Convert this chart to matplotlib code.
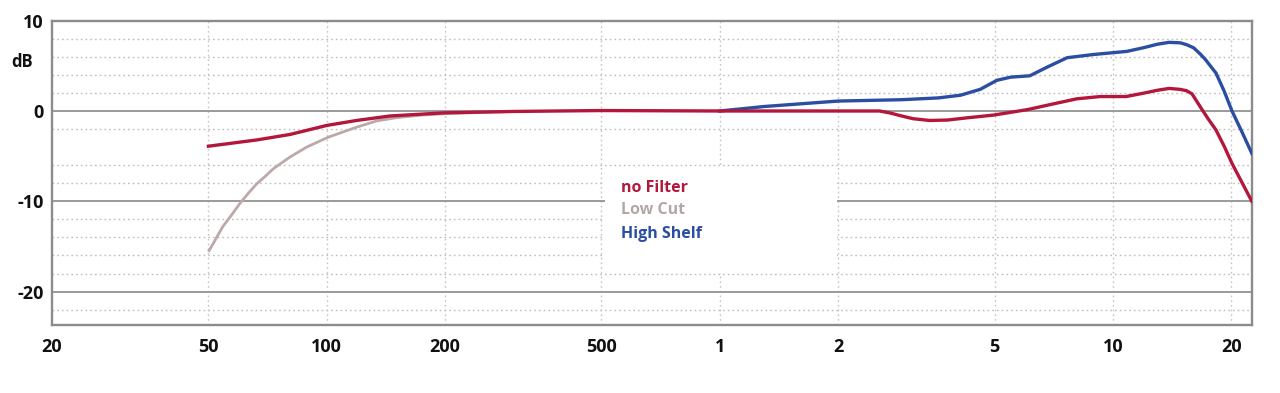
import matplotlib
matplotlib.use("Agg")
import matplotlib.pyplot as plt
from matplotlib.patches import Rectangle

# ---- data (frequency in Hz, level in dB) ----
nofilter_f = [50, 66.5, 80.6, 100, 119, 145, 200, 300, 500, 1000, 2000, 2550,
              2700, 2870, 3100, 3420, 3800, 4270, 4980, 6060, 7080, 8100, 9280,
              10800, 11900, 13000, 13900, 14800, 15400, 15900, 16900, 17500,
              18300, 19200, 20100, 21300, 22580]
nofilter_db = [-3.9, -3.2, -2.6, -1.6, -1.05, -0.55, -0.2, -0.05, 0.05, 0.0, 0.0, 0.0,
               -0.2, -0.5, -0.85, -1.05, -1.0, -0.75, -0.45, 0.15, 0.8, 1.35, 1.6,
               1.6, 1.95, 2.3, 2.5, 2.4, 2.25, 1.9, 0.1, -0.9,
               -2.1, -3.9, -5.8, -7.9, -10.0]

lowcut_f = [50, 52, 54.4, 57.3, 60.1, 63.2, 66.4, 69.7, 73.1, 80.6, 88.9, 100.9,
            119, 134, 150, 175, 200, 250, 300]
lowcut_db = [-15.6, -14.3, -12.8, -11.5, -10.25, -9.1, -8.05, -7.25, -6.4, -5.1,
             -4.0, -2.9, -1.8, -1.1, -0.75, -0.45, -0.3, -0.15, -0.05]

highshelf_f = [1000, 1300, 2000, 2900, 3600, 4100, 4600, 5070, 5500, 6150, 6800,
               7650, 8900, 10850, 11950, 13000, 13900, 14850, 15400, 16050, 16700,
               17200, 18300, 19200, 20100, 21300, 22580]
highshelf_db = [0.0, 0.5, 1.1, 1.25, 1.45, 1.75, 2.4, 3.4, 3.75, 3.9, 4.85,
                5.9, 6.25, 6.6, 7.0, 7.4, 7.6, 7.55, 7.35, 7.0, 6.3,
                5.7, 4.2, 2.2, 0.0, -2.3, -4.7]

x_ticks = [20, 50, 100, 200, 500, 1000, 2000, 5000, 10000, 20000]
x_labels = ["20", "50", "100", "200", "500", "1", "2", "5", "10", "20"]
y_ticks = [10, 0, -10, -20]
y_labels = ["10", "0", "-10", "-20"]
solid_levels = [0, -10, -20]
dotted_levels = [8, 6, 4, 2, -2, -6, -8, -12, -14, -16, -18, -22]

legend_names = ["no Filter", "Low Cut", "High Shelf"]

RED = "#b3173c"
GREY = "#bda9a9"
BLUE = "#2b4ea3"
GRID = "#9a9a9a"

plt.rcParams["font.family"] = ["Open Sans", "DejaVu Sans"]

fig = plt.figure(figsize=(12.8, 3.93), dpi=100)
ax = fig.add_axes([52 / 1280, 1 - 325 / 393, 1200 / 1280, (325 - 20.7) / 393])

ax.set_xscale("log")
ax.set_xlim(20, 22600)
ax.set_ylim(-23.7, 10)

# grid
for lv in dotted_levels:
    ax.axhline(lv, color="#bdbdbd", lw=1.0, ls=(0, (1.2, 2.2)), zorder=1)
for xv in x_ticks[1:]:
    ax.axvline(xv, color="#c4c4c4", lw=1.0, ls=(0, (1.2, 2.2)), zorder=1)
for lv in solid_levels:
    ax.axhline(lv, color=GRID, lw=1.4, zorder=1.2)

# legend box (white area hiding grid)
ax.add_patch(Rectangle((510, -17.9), 1990 - 510, 11.7, facecolor="white",
                       edgecolor="none", zorder=1.5))

ax.plot(lowcut_f, lowcut_db, color=GREY, lw=2.0, zorder=3, solid_capstyle="butt",
        solid_joinstyle="round")
ax.plot(highshelf_f, highshelf_db, color=BLUE, lw=2.4, zorder=3.5, solid_joinstyle="round")
ax.plot(nofilter_f, nofilter_db, color=RED, lw=2.4, zorder=4, solid_joinstyle="round")

# legend texts
for name, col, yy in zip(legend_names, [RED, "#b5a6a6", BLUE], [-8.5, -10.95, -13.6]):
    ax.text(562, yy, name, color=col, fontsize=11.5, fontweight="bold",
            va="center", ha="left", zorder=5)

ax.set_xticks(x_ticks)
ax.set_xticklabels(x_labels)
ax.minorticks_off()
ax.set_yticks(y_ticks)
ax.set_yticklabels(y_labels)
ax.tick_params(axis="both", length=0, labelsize=13, colors="#111111")
ax.tick_params(axis="x", pad=9)
ax.tick_params(axis="y", pad=6)
for lab in ax.get_xticklabels() + ax.get_yticklabels():
    lab.set_fontweight("bold")

for sp in ax.spines.values():
    sp.set_color("#8c8c8c")
    sp.set_linewidth(1.7)

fig.text(22 / 1280, 1 - 62 / 393, "dB", fontsize=12, fontweight="bold",
         ha="center", va="center", color="#111111")

fig.savefig("out.png", dpi=100, facecolor="white")
